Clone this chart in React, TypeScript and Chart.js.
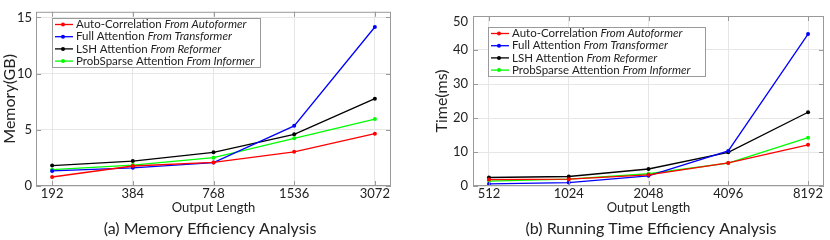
import React, { useEffect, useRef } from 'react';
import { Chart, registerables } from 'chart.js';

Chart.register(...registerables);

// ---- data ----
const memoryLabels = ['192', '384', '768', '1536', '3072'];
const memoryAutoCorrelation = [0.8, 1.78, 2.1, 3.04, 4.66];
const memoryFullAttention = [1.34, 1.62, 2.08, 5.35, 14.15];
const memoryLSHAttention = [1.82, 2.22, 3.0, 4.6, 7.77];
const memoryProbSparse = [1.45, 1.86, 2.52, 4.24, 5.96];

const timeLabels = ['512', '1024', '2048', '4096', '8192'];
const timeAutoCorrelation = [1.9, 2.0, 3.3, 6.8, 12.1];
const timeFullAttention = [0.6, 1.0, 3.0, 10.3, 44.7];
const timeLSHAttention = [2.5, 2.8, 5.0, 9.9, 21.7];
const timeProbSparse = [1.45, 2.0, 3.6, 6.75, 14.2];

const seriesNames = ['Auto-Correlation', 'Full Attention', 'LSH Attention', 'ProbSparse Attention'];
const seriesSources = ['From Autoformer', 'From Transformer', 'From Reformer', 'From Informer'];
const seriesColors = ['#ff0000', '#0000ff', '#000000', '#00ff00'];

const memoryTicks = [0, 5, 10, 15];
const timeTicks = [0, 10, 20, 30, 40, 50];

const FONT = 'Lato';
const TEXT = '#222222';
const FRAME = '#9a9a9a';
const GRID = '#e6e6e6';

type Panel = {
  labels: string[];
  series: number[][];
  yMax: number;
  yTicks: number[];
  yTitle: string;
  caption: string;
  captionX: number;
  yAxisWidth: number;
  padRight: number;
  yTitlePad: number;
  yTickPad: number;
  shiftTopLabel: boolean;
  legendBox: { x: number; y: number; w: number; h: number };
};

const panels: Panel[] = [
  {
    labels: memoryLabels,
    series: [memoryAutoCorrelation, memoryFullAttention, memoryLSHAttention, memoryProbSparse],
    yMax: 15.5,
    yTicks: memoryTicks,
    yTitle: 'Memory(GB)',
    caption: '(a) Memory Efficiency Analysis',
    captionX: 210,
    yAxisWidth: 36,
    padRight: 24,
    yTitlePad: 0,
    yTickPad: 4,
    shiftTopLabel: false,
    legendBox: { x: 52, y: 18, w: 208, h: 49 },
  },
  {
    labels: timeLabels,
    series: [timeAutoCorrelation, timeFullAttention, timeLSHAttention, timeProbSparse],
    yMax: 50,
    yTicks: timeTicks,
    yTitle: 'Time(ms)',
    caption: '(b) Running Time Efficiency Analysis',
    captionX: 236,
    yAxisWidth: 58,
    padRight: 6,
    yTitlePad: 17,
    yTickPad: 5,
    shiftTopLabel: true,
    legendBox: { x: 73, y: 27, w: 217, h: 49 },
  },
];

function makeChart(canvas: HTMLCanvasElement, p: Panel) {
  const framePlugin = {
    id: 'frameTicks',
    afterDatasetsDraw(chart: any) {
      const { ctx, chartArea } = chart;
      const { left, right, top, bottom } = chartArea;
      const xs = chart.scales.x;
      const ys = chart.scales.y;
      ctx.save();
      ctx.strokeStyle = FRAME;
      ctx.lineWidth = 1;
      ctx.strokeRect(left + 0.5, top + 0.5, right - left - 1, bottom - top - 1);
      ctx.beginPath();
      p.labels.forEach((_, i) => {
        const px = Math.round(xs.getPixelForValue(i)) + 0.5;
        ctx.moveTo(px, bottom);
        ctx.lineTo(px, bottom - 5);
        ctx.moveTo(px, top);
        ctx.lineTo(px, top + 5);
      });
      p.yTicks.forEach((v) => {
        const py = Math.round(ys.getPixelForValue(v)) + 0.5;
        ctx.moveTo(left, py);
        ctx.lineTo(left + 5, py);
        ctx.moveTo(right, py);
        ctx.lineTo(right - 5, py);
      });
      ctx.stroke();
      ctx.restore();
    },
  };

  const legendPlugin = {
    id: 'boxLegend',
    afterDraw(chart: any) {
      const { ctx } = chart;
      const { x, y, w, h } = p.legendBox;
      ctx.save();
      ctx.fillStyle = '#ffffff';
      ctx.fillRect(x, y, w, h);
      ctx.strokeStyle = FRAME;
      ctx.lineWidth = 1;
      ctx.strokeRect(x + 0.5, y + 0.5, w, h);
      seriesNames.forEach((name, i) => {
        const ry = y + 6.5 + i * 12.2;
        ctx.strokeStyle = seriesColors[i];
        ctx.lineWidth = 1.3;
        ctx.beginPath();
        ctx.moveTo(x + 3, ry);
        ctx.lineTo(x + 21, ry);
        ctx.stroke();
        ctx.fillStyle = seriesColors[i];
        ctx.beginPath();
        ctx.arc(x + 11, ry, 2, 0, Math.PI * 2);
        ctx.fill();
        ctx.fillStyle = TEXT;
        ctx.textBaseline = 'middle';
        ctx.textAlign = 'left';
        ctx.font = `11.5px ${FONT}`;
        const first = name + ' ';
        ctx.fillText(first, x + 24, ry);
        const w1 = ctx.measureText(first).width;
        ctx.font = `italic 11.5px ${FONT}`;
        ctx.fillText(seriesSources[i], x + 24 + w1, ry);
      });
      ctx.restore();
    },
  };

  const captionPlugin = {
    id: 'caption',
    afterDraw(chart: any) {
      const { ctx } = chart;
      ctx.save();
      ctx.fillStyle = TEXT;
      ctx.font = `16px ${FONT}`;
      ctx.textAlign = 'center';
      ctx.textBaseline = 'middle';
      ctx.fillText(p.caption, p.captionX, 229);
      ctx.restore();
    },
  };

  return new Chart(canvas, {
    type: 'line',
    data: {
      datasets: p.series.map((vals, i) => ({
        label: seriesNames[i],
        data: vals.map((v, j) => ({ x: j, y: v })),
        borderColor: seriesColors[i],
        backgroundColor: seriesColors[i],
        borderWidth: 1.3,
        pointRadius: 2,
        pointBorderWidth: 0,
        pointBackgroundColor: seriesColors[i],
        tension: 0,
        fill: false,
      })),
    },
    options: {
      animation: false,
      responsive: false,
      maintainAspectRatio: false,
      devicePixelRatio: 1,
      layout: { autoPadding: false, padding: { left: 0, right: p.padRight, top: 4, bottom: 0 } },
      plugins: { legend: { display: false }, tooltip: { enabled: false } },
      scales: {
        x: {
          type: 'linear',
          min: -0.2,
          max: 4.2,
          afterBuildTicks: (s: any) => {
            s.ticks = p.labels.map((_, i) => ({ value: i }));
          },
          afterFit: (s: any) => {
            s.height = 54;
          },
          grid: { color: GRID, drawTicks: false },
          border: { display: false },
          ticks: {
            padding: 0,
            color: TEXT,
            font: { family: FONT, size: 13 },
            maxRotation: 0,
            autoSkip: false,
            callback: (v: any) => p.labels[v] ?? '',
          },
          title: {
            display: true,
            text: 'Output Length',
            color: TEXT,
            font: { family: FONT, size: 13 },
            padding: { top: 0, bottom: 24 },
          },
        },
        y: {
          type: 'linear',
          min: 0,
          max: p.yMax,
          afterBuildTicks: (s: any) => {
            s.ticks = p.yTicks.map((v) => ({ value: v }));
          },
          afterFit: (s: any) => {
            s.width = p.yAxisWidth;
          },
          grid: { color: GRID, drawTicks: false },
          border: { display: false },
          ticks: {
            padding: p.yTickPad,
            color: TEXT,
            font: (c: any) => ({
              family: FONT,
              size: 13,
              lineHeight: p.shiftTopLabel && c.tick && c.tick.value === p.yMax ? '11px' : 1.2,
            }),
            callback: (v: any) =>
              p.shiftTopLabel && v === p.yMax ? ['', String(v)] : String(v),
          },
          title: {
            display: true,
            text: p.yTitle,
            color: TEXT,
            font: { family: FONT, size: 16 },
            padding: { top: p.yTitlePad, bottom: 0 },
          },
        },
      },
    },
    plugins: [framePlugin, legendPlugin, captionPlugin],
  } as any);
}

function ChartPanel({ panel, left }: { panel: Panel; left: number }) {
  const ref = useRef<HTMLCanvasElement | null>(null);
  useEffect(() => {
    if (!ref.current) return;
    const chart = makeChart(ref.current, panel);
    return () => chart.destroy();
  }, [panel]);
  return (
    <div style={{ position: 'absolute', left, top: 0, width: 415, height: 240 }}>
      <canvas ref={ref} width={415} height={240} style={{ display: 'block' }} />
    </div>
  );
}

export default function App() {
  return (
    <div
      style={{
        position: 'fixed',
        left: 0,
        top: 0,
        width: 830,
        height: 240,
        background: '#ffffff',
        overflow: 'hidden',
      }}
    >
      <ChartPanel panel={panels[0]} left={0} />
      <ChartPanel panel={panels[1]} left={415} />
    </div>
  );
}
